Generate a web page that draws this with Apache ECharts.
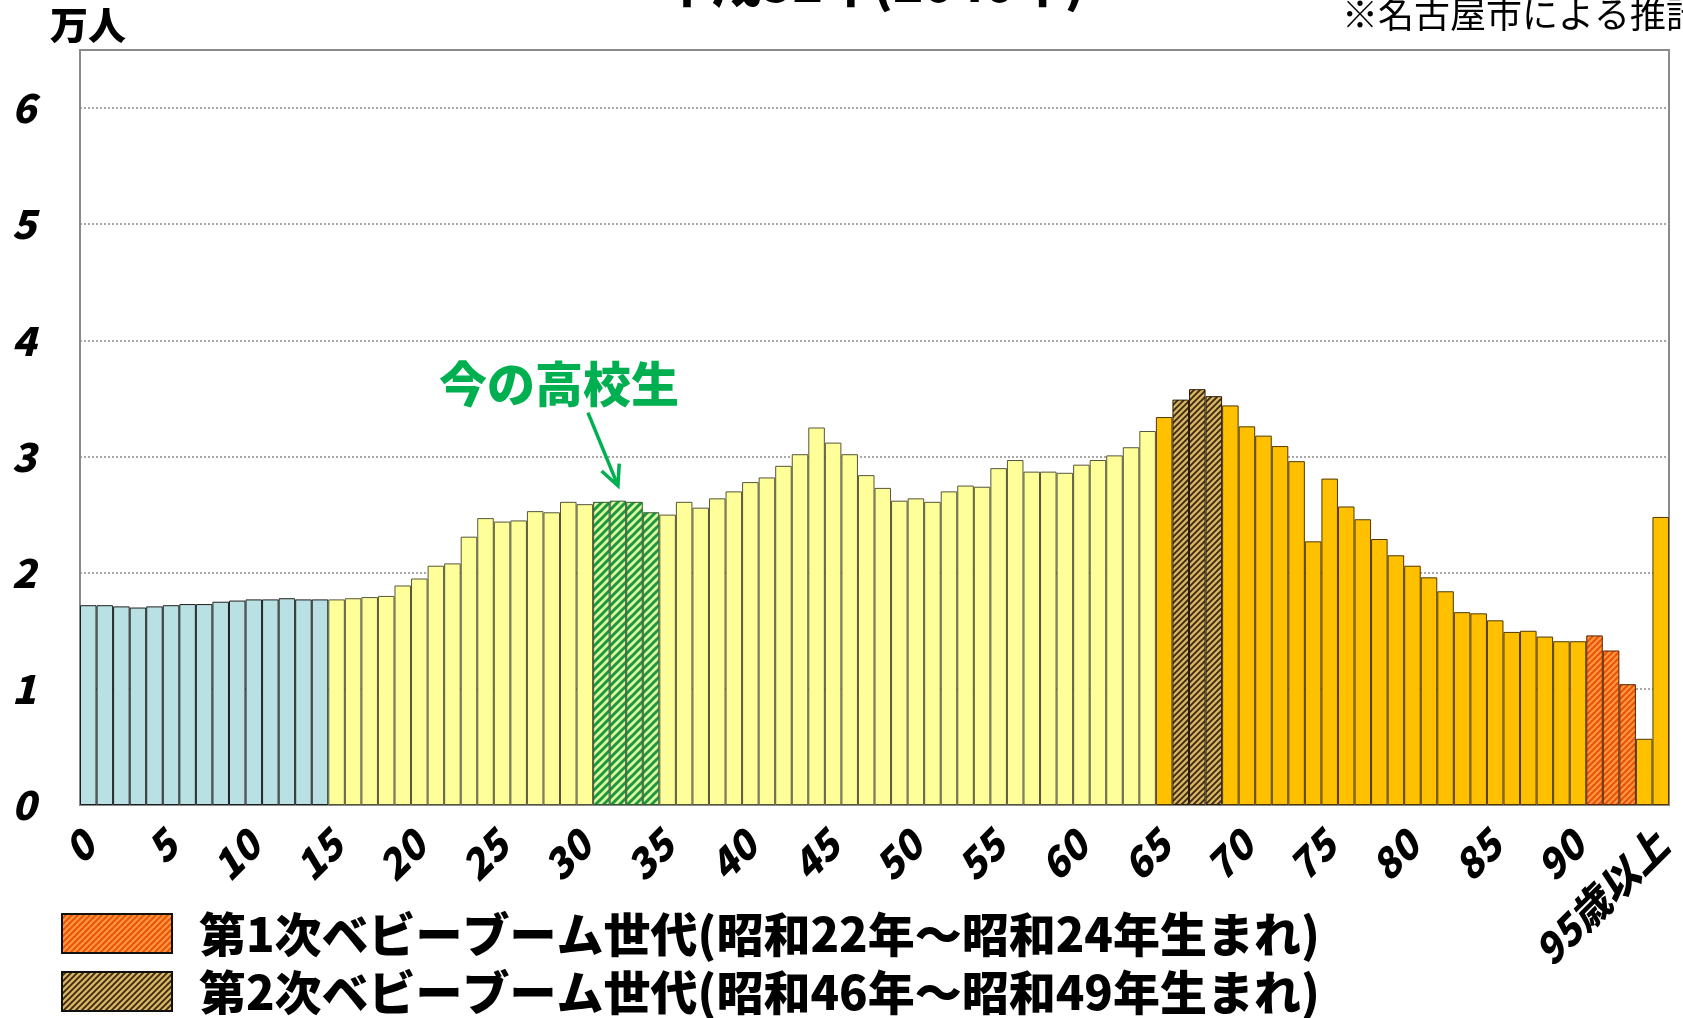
<!DOCTYPE html>
<html>
<head>
<meta charset="utf-8">
<script src="https://cdn.jsdelivr.net/npm/echarts@6/dist/echarts.min.js"></script>
<style>
  html, body { margin: 0; padding: 0; background: #ffffff; }
  #chart { width: 1683px; height: 1018px; }
</style>
</head>
<body>
<div id="chart"></div>
<script>
// 年齢別人口（万人）
const ageLabels = Array.from({ length: 95 }, (_, i) => String(i)).concat(['95歳以上']);
const population = [
  1.72, 1.72, 1.71, 1.70, 1.71, 1.72, 1.73, 1.73, 1.75, 1.76, 1.77, 1.77, 1.78, 1.77, 1.77,
  1.77, 1.78, 1.79, 1.80, 1.89, 1.95, 2.06, 2.08, 2.31, 2.47, 2.44, 2.45, 2.53, 2.52, 2.61, 2.59,
  2.61, 2.62, 2.61, 2.52,
  2.50, 2.61, 2.56, 2.64, 2.70, 2.78, 2.82, 2.92, 3.02, 3.25, 3.12, 3.02, 2.84, 2.73, 2.62,
  2.64, 2.61, 2.70, 2.75, 2.74, 2.90, 2.97, 2.87, 2.87, 2.86, 2.93, 2.97, 3.01, 3.08, 3.22,
  3.34, 3.49, 3.58, 3.52, 3.44, 3.26, 3.18, 3.09, 2.96, 2.27, 2.81, 2.57, 2.46, 2.29, 2.15,
  2.06, 1.96, 1.84, 1.66, 1.65, 1.59, 1.49, 1.50, 1.45, 1.41, 1.41, 1.46, 1.33, 1.04, 0.57, 2.48
];
const yTicks = [0, 1, 2, 3, 4, 5, 6];

// 強調する年齢（カテゴリ番号）
const highSchoolAges = [31, 32, 33, 34];
const secondBoomAges = [66, 67, 68];
const firstBoomAges = [91, 92, 93];

const legendTexts = [
  '第1次ベビーブーム世代(昭和22年～昭和24年生まれ)',
  '第2次ベビーブーム世代(昭和46年～昭和49年生まれ)'
];
const titleText = '平成52年(2040年)';
const unitText = '万人';
const sourceText = '※名古屋市による推計';
const noteText = '今の高校生';

const FONT = '"Noto Sans CJK JP", "Noto Sans", sans-serif';

// 斜線ハッチのパターンを作る
function stripes(bg, fg, size, width) {
  const c = document.createElement('canvas');
  c.width = size; c.height = size;
  const g = c.getContext('2d');
  g.fillStyle = bg;
  g.fillRect(0, 0, size, size);
  g.strokeStyle = fg;
  g.lineWidth = width;
  g.lineCap = 'square';
  for (const k of [-size, 0, size]) {
    g.beginPath();
    g.moveTo(k, size);
    g.lineTo(k + size, 0);
    g.stroke();
  }
  return { image: c, repeat: 'repeat' };
}

const hatchGreen = stripes('#e2f6a0', '#1a9a3e', 8, 3.0);
const hatchBrown = stripes('#d6b462', '#3a2810', 6, 1.8);
const hatchRed = stripes('#ea5410', '#ff9a3c', 6, 2.0);

function styleFor(i) {
  if (highSchoolAges.includes(i)) return { color: hatchGreen, borderColor: '#2f5a2f', borderWidth: 1 };
  if (secondBoomAges.includes(i)) return { color: hatchBrown, borderColor: '#2a1c08', borderWidth: 1 };
  if (firstBoomAges.includes(i)) return { color: hatchRed, borderColor: '#5a2000', borderWidth: 1 };
  if (i < 15) return { color: '#b9e0e2', borderColor: '#1e1e1e', borderWidth: 1 };
  if (i < 65) return { color: '#ffff99', borderColor: '#55553a', borderWidth: 1 };
  return { color: '#ffc000', borderColor: '#4e3800', borderWidth: 1 };
}

const barData = population.map((v, i) => ({ value: v, itemStyle: styleFor(i) }));

const chart = echarts.init(document.getElementById('chart'), null, { renderer: 'canvas' });

chart.setOption({
  animation: false,
  backgroundColor: '#ffffff',
  grid: {
    left: 80, right: 14, top: 50, bottom: 213,
    show: true, borderColor: '#8a8a8a', borderWidth: 2, backgroundColor: 'transparent'
  },
  xAxis: {
    type: 'category',
    data: ageLabels,
    axisLine: { show: true, lineStyle: { color: '#8a8a8a', width: 2 } },
    axisTick: { show: false },
    axisLabel: {
      interval: 4,
      rotate: 45,
      margin: 33,
      color: '#000',
      fontFamily: FONT,
      fontWeight: 900,
      fontStyle: 'italic',
      fontSize: 40
    },
    splitLine: { show: false }
  },
  yAxis: {
    type: 'value',
    min: 0,
    max: 6.5,
    interval: 1,
    axisLine: { show: true, lineStyle: { color: '#8a8a8a', width: 2 } },
    axisTick: { show: false },
    axisLabel: {
      margin: 44,
      color: '#000',
      fontFamily: FONT,
      fontWeight: 900,
      fontStyle: 'italic',
      fontSize: 40,
      formatter: v => (yTicks.includes(v) ? String(v) : '')
    },
    splitLine: {
      show: true,
      lineStyle: { color: '#8c8c8c', width: 1.5, type: [2, 2] }
    }
  },
  series: [{
    type: 'bar',
    data: barData,
    barCategoryGap: 0,
    barGap: 0,
    silent: true
  }]
});

// 注記・凡例・見出し
const tip = chart.convertToPixel({ xAxisIndex: 0, yAxisIndex: 0 }, [32, population[32]]);
const tipX = tip[0], tipY = tip[1] - 15;
const tailX = tipX - 30, tailY = tipY - 73;
const ang = Math.atan2(tipY - tailY, tipX - tailX);
const headLen = 22, headSpread = Math.PI / 7;
const head1 = [tipX - headLen * Math.cos(ang - headSpread), tipY - headLen * Math.sin(ang - headSpread)];
const head2 = [tipX - headLen * Math.cos(ang + headSpread), tipY - headLen * Math.sin(ang + headSpread)];

const legendFills = [hatchRed, hatchBrown];
const legendRows = [934, 992];

chart.setOption({
  graphic: [
    {
      type: 'text', top: -42, left: 662,
      style: { text: titleText, fill: '#000', font: `900 50px ${FONT}` }
    },
    {
      type: 'text', left: 50, top: 6,
      style: { text: unitText, fill: '#000', font: `900 38px ${FONT}` }
    },
    {
      type: 'text', left: 1342, top: -4,
      style: { text: sourceText, fill: '#000', font: `400 36px ${FONT}` }
    },
    {
      type: 'text', x: tipX - 59, y: tipY - 102,
      style: {
        text: noteText, fill: '#00b050', font: `900 48px ${FONT}`,
        align: 'center', verticalAlign: 'middle',
        stroke: '#ffffff', lineWidth: 3
      }
    },
    {
      type: 'polyline',
      shape: { points: [[tailX, tailY], [tipX, tipY]] },
      style: { stroke: '#00b050', lineWidth: 3.5, fill: null }
    },
    {
      type: 'polyline',
      shape: { points: [head1, [tipX, tipY], head2] },
      style: { stroke: '#00b050', lineWidth: 3.5, fill: null, lineJoin: 'miter' }
    },
    ...legendTexts.map((t, k) => ({
      type: 'group',
      children: [
        {
          type: 'rect',
          shape: { x: 62, y: legendRows[k] - 20, width: 110, height: 39 },
          style: { fill: legendFills[k], stroke: '#111', lineWidth: 2 }
        },
        {
          type: 'text', x: 199, y: legendRows[k],
          style: {
            text: t, fill: '#000', font: `900 47px ${FONT}`,
            align: 'left', verticalAlign: 'middle'
          }
        }
      ]
    }))
  ]
});
</script>
</body>
</html>
